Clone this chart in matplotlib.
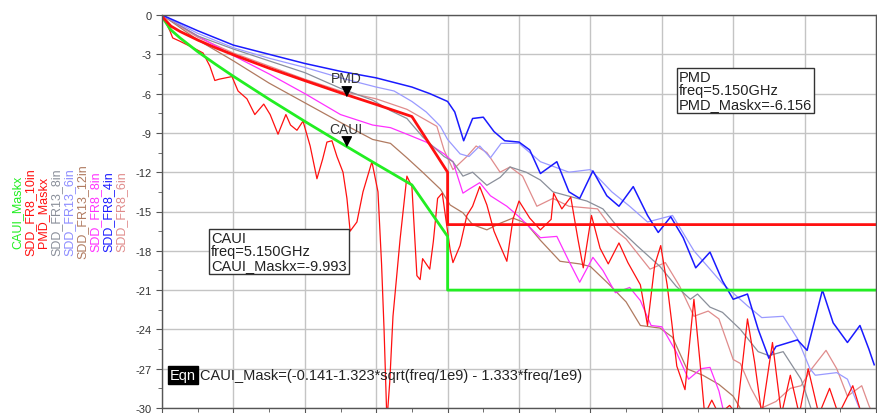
import numpy as np
import matplotlib.pyplot as plt
from matplotlib.ticker import MultipleLocator

plt.rcParams['font.family'] = ['Liberation Sans', 'DejaVu Sans']
plt.rcParams['axes.unicode_minus'] = False

# frequências (GHz) e perdas (dB)
caui_f = [0, 0.25, 0.5, 1, 1.5, 2, 3, 4, 5, 6, 7, 8, 8, 20]
caui_v = [-0.14, -1.14, -1.74, -2.80, -3.76, -4.68, -6.43, -8.12, -9.76, -11.38, -12.97, -16.9, -21.0, -21.0]

pmd_f = [0, 0.25, 0.5, 1, 1.5, 2, 3, 4, 5, 6, 7, 8, 8, 20]
pmd_v = [-0.11, -0.85, -1.25, -1.91, -2.50, -3.04, -4.06, -5.01, -5.94, -6.83, -7.75, -12.0, -16.0, -16.0]

fr8_10in_f = [0, 0.22, 0.3, 0.5, 0.87, 1.15, 1.34, 1.48, 1.6, 1.96, 2.13, 2.38, 2.6, 2.85, 3.03, 3.25,
              3.47, 3.6, 3.78, 3.95, 4.15, 4.34, 4.5, 4.62, 4.76, 4.9, 5.07, 5.18, 5.27, 5.46, 5.63,
              5.88, 6.05, 6.15, 6.22, 6.3, 6.38, 6.47, 6.67, 6.86, 7.0, 7.14, 7.23, 7.3, 7.5, 7.6,
              7.72, 7.85, 8.07, 8.15, 8.35, 8.54, 8.7, 8.9, 9.1, 9.3, 9.47, 9.66, 9.83, 10.0, 10.3,
              10.6, 10.9, 10.97, 11.2, 11.45, 11.65, 11.8, 12.03, 12.27, 12.5, 12.8, 13.05, 13.4,
              13.6, 13.8, 13.97, 14.15, 14.28, 14.42, 14.65, 14.9, 15.07, 15.2, 15.4, 15.6, 15.9,
              16.1, 16.4, 16.6, 16.8, 17.1, 17.35, 17.6, 17.85, 18.1, 18.4, 18.7, 18.95, 19.35,
              19.6, 20.0]
fr8_10in_v = [0, -1.2, -1.75, -2.0, -2.5, -2.9, -3.9, -5.0, -4.9, -4.7, -5.8, -6.4, -7.6, -6.8, -7.6,
              -9.1, -7.6, -8.4, -8.8, -8.1, -10.0, -12.5, -11.0, -9.7, -9.6, -10.8, -12.0, -14.0,
              -16.5, -15.8, -13.5, -11.2, -13.5, -19.0, -24.0, -31.0, -28.0, -23.0, -17.1, -12.3,
              -13.1, -19.9, -20.2, -18.6, -19.4, -17.3, -14.0, -13.6, -17.9, -18.9, -17.6, -15.3,
              -14.6, -13.1, -14.5, -16.5, -17.6, -18.8, -15.6, -14.2, -15.5, -16.4, -15.6, -13.6,
              -14.8, -13.9, -17.1, -19.3, -15.3, -17.8, -19.0, -17.4, -18.9, -20.6, -23.7, -19.1,
              -17.6, -20.6, -23.5, -26.8, -28.6, -21.7, -26.5, -30.5, -29.4, -30.5, -29.8, -30.5,
              -23.2, -26.5, -30.5, -25.0, -30.5, -27.5, -30.5, -27.0, -30.5, -28.5, -30.5, -28.3,
              -30.5, -30.5]

fr13_8in_f = [0, 1, 2, 3, 4, 5, 5.9, 6.4, 6.86, 7.3, 7.9, 8.15, 8.43, 8.7, 9.1, 9.47, 9.75, 10.2, 10.6,
              10.95, 11.9, 12.35, 12.8, 13.3, 13.95, 14.4, 14.8, 15.0, 15.35, 15.7, 16.2, 16.7, 17.0,
              17.4, 17.9, 18.2]
fr13_8in_v = [0, -1.6, -2.6, -3.5, -4.4, -5.6, -6.5, -7.3, -7.9, -9.3, -10.8, -11.2, -12.3, -12.0, -13.0,
              -12.4, -11.6, -12.0, -12.6, -13.5, -14.2, -14.8, -16.3, -17.6, -19.2, -20.7, -21.7, -21.3,
              -22.3, -22.7, -24.0, -25.7, -26.0, -25.7, -27.8, -30.2]

fr13_6in_f = [0, 1, 2, 3, 4, 5, 6, 6.5, 7, 7.4, 7.8, 8.0, 8.35, 8.6, 8.9, 9.2, 9.5, 10.0, 10.6, 11.4,
              12.0, 12.6, 13.1, 13.6, 14.3, 14.9, 15.35, 15.7, 16.4, 16.8, 17.4, 17.8, 18.15, 18.3,
              18.9, 19.2, 19.5, 19.7]
fr13_6in_v = [0, -1.4, -2.5, -3.3, -4.0, -4.8, -5.5, -5.8, -6.6, -7.4, -8.5, -9.5, -10.6, -10.8, -10.0,
              -10.9, -9.8, -9.8, -11.2, -12.0, -11.8, -13.5, -14.6, -15.8, -15.3, -18.0, -19.4, -20.5,
              -22.2, -23.1, -23.0, -24.7, -27.0, -27.5, -27.3, -27.8, -29.8, -31.0]

fr13_12in_f = [0, 1, 2, 3, 4, 5, 5.9, 6.4, 6.86, 7.3, 7.8, 8.07, 8.43, 8.7, 9.1, 9.47, 9.83, 10.2, 10.6,
               11.15, 11.7, 12.0, 12.5, 13.0, 13.4, 13.95, 14.3, 14.7, 15.15, 15.6, 16.0, 16.3]
fr13_12in_v = [0, -1.9, -3.5, -5.2, -6.7, -8.2, -9.5, -9.8, -10.9, -12.0, -13.3, -14.5, -15.1, -16.0,
               -16.4, -15.9, -15.5, -15.9, -17.2, -18.8, -19.0, -19.2, -20.5, -21.9, -23.7, -23.9,
               -24.6, -27.0, -27.5, -28.2, -29.1, -30.5]

fr8_8in_f = [0, 1, 2, 3, 4, 5, 5.9, 6.4, 6.86, 7.4, 7.9, 8.15, 8.43, 8.6, 8.9, 9.2, 9.66, 10.0, 10.6,
             11.06, 11.4, 11.7, 12.07, 12.35, 12.7, 13.1, 13.4, 13.7, 14.0, 14.4, 14.75, 15.1, 15.35,
             15.6, 15.75]
fr8_8in_v = [0, -1.6, -3.1, -4.5, -6.0, -7.6, -8.4, -8.6, -9.1, -9.7, -10.6, -11.2, -13.6, -13.3, -12.8,
             -13.8, -14.6, -15.4, -17.0, -16.9, -18.8, -20.4, -18.5, -19.5, -21.2, -20.8, -21.8, -23.7,
             -23.8, -25.7, -27.8, -27.0, -26.9, -28.7, -30.5]

fr8_4in_f = [0, 1, 2, 3, 4, 5, 6, 7, 7.5, 8, 8.2, 8.45, 8.7, 9.0, 9.3, 9.6, 10.0, 10.3, 10.6, 11.06,
             11.4, 11.7, 12.07, 12.46, 12.8, 13.2, 13.6, 13.9, 14.25, 14.6, 14.95, 15.35, 15.7, 16.0,
             16.4, 16.7, 17.0, 17.2, 17.8, 18.07, 18.5, 18.8, 19.2, 19.55, 19.8, 19.95]
fr8_4in_v = [0, -1.2, -2.3, -3.0, -3.7, -4.3, -4.8, -5.5, -6.0, -6.6, -7.4, -9.6, -7.9, -7.8, -8.9,
             -9.6, -9.7, -10.3, -12.1, -11.2, -13.5, -14.0, -11.9, -13.8, -14.6, -13.1, -15.3, -16.6,
             -15.4, -17.0, -19.3, -18.1, -20.3, -21.7, -21.3, -24.0, -26.2, -25.3, -24.8, -25.6,
             -21.0, -23.5, -25.0, -23.7, -25.5, -26.7]

fr8_6in_f = [0, 1, 2, 3, 4, 5, 6, 6.86, 7.7, 7.9, 8.15, 8.54, 8.8, 9.1, 9.47, 9.75, 10.1, 10.5, 10.95,
             11.4, 12.2, 12.55, 13.0, 13.67, 14.1, 14.5, 14.9, 15.3, 15.6, 16.0, 16.2, 16.5, 16.8,
             17.2, 17.6, 17.9, 18.2, 18.6, 18.9, 19.2, 19.6, 19.8, 20.0]
fr8_6in_v = [0, -1.7, -2.9, -3.9, -4.9, -5.8, -6.4, -7.2, -8.5, -10.3, -11.8, -10.8, -10.0, -10.5,
             -12.0, -11.6, -12.3, -14.6, -14.0, -14.6, -14.8, -16.1, -17.1, -19.4, -18.9, -20.7,
             -23.0, -22.6, -23.2, -26.3, -26.6, -28.5, -30.0, -29.5, -28.5, -28.3, -27.0, -25.6,
             -27.0, -29.1, -28.3, -29.8, -31.0]

marker_freq = 5.15
pmd_marker = -6.156
caui_marker = -9.993

legend_labels = ['CAUI_Maskx', 'SDD_FR8_10in', 'PMD_Maskx', 'SDD_FR13_8in', 'SDD_FR13_6in',
                 'SDD_FR13_12in', 'SDD_FR8_8in', 'SDD_FR8_4in', 'SDD_FR8_6in']
legend_colors = ['#22ee22', '#ff1010', '#ff1010', '#8a8f9a', '#8c8cff',
                 '#b07a60', '#ff30ff', '#1a1aff', '#e08c8c']

W, H = 877, 414
fig = plt.figure(figsize=(W / 100, H / 100), dpi=100)
ax = fig.add_axes([162 / W, 5 / H, 714 / W, 393 / H])

ax.plot(fr8_6in_f, fr8_6in_v, color='#e08c8c', lw=0.9)
ax.plot(fr13_12in_f, fr13_12in_v, color='#b07a60', lw=0.9)
ax.plot(fr8_8in_f, fr8_8in_v, color='#ff30ff', lw=0.9)
ax.plot(fr13_8in_f, fr13_8in_v, color='#8a8f9a', lw=0.9)
ax.plot(fr13_6in_f, fr13_6in_v, color='#9a9aff', lw=0.9)
ax.plot(fr8_4in_f, fr8_4in_v, color='#1a1aff', lw=1.1)
ax.plot(fr8_10in_f, fr8_10in_v, color='#ff1010', lw=0.9)
ax.plot(caui_f, caui_v, color='#22ee22', lw=2.0)
ax.plot(pmd_f, pmd_v, color='#ff1010', lw=2.0)

# marcadores (triângulo com a ponta no ponto)
tri = [(-1, 2), (1, 2), (0, 0)]
for val, name in [(pmd_marker, 'PMD'), (caui_marker, 'CAUI')]:
    ax.plot(marker_freq, val, marker=tri, markersize=14, color='black', zorder=5)
    ax.annotate(name, (marker_freq, val), xytext=(0, 12.5), textcoords='offset points',
                ha='center', va='center', fontsize=10, color='#333333', zorder=6)

ax.set_xlim(0, 20)
ax.set_ylim(-30, 0)
ax.xaxis.set_major_locator(MultipleLocator(2))
ax.xaxis.set_minor_locator(MultipleLocator(1))
ax.yaxis.set_major_locator(MultipleLocator(3))
ax.yaxis.set_minor_locator(MultipleLocator(1.5))
ax.grid(True, which='major', color='#c4c4c4', lw=1.0)
ax.set_axisbelow(True)
ax.tick_params(axis='both', which='both', direction='out', color='#555555', labelsize=8,
               labelcolor='#333333')
ax.tick_params(which='major', length=4)
ax.tick_params(which='minor', length=3)
ax.tick_params(axis='x', labelbottom=False)
for sp in ax.spines.values():
    sp.set_color('#555555')
    sp.set_linewidth(1.0)

# legenda vertical à esquerda
for i, (lab, col) in enumerate(zip(legend_labels, legend_colors)):
    fig.text((17 + 13 * i) / W, 1 - 212 / H, lab, rotation=90, ha='center', va='center',
             fontsize=9, color=col)

box = dict(boxstyle='square,pad=0.15', fc='white', ec='#333333', lw=1.0)
fig.text(679 / W, 1 - 71 / H, 'PMD\nfreq=5.150GHz\nPMD_Maskx=-6.156', ha='left', va='top',
         fontsize=10.5, linespacing=0.95, color='#222222', bbox=box)
fig.text(211 / W, 1 - 232 / H, 'CAUI\nfreq=5.150GHz\nCAUI_Maskx=-9.993', ha='left', va='top',
         fontsize=10.5, linespacing=0.95, color='#222222', bbox=box)

fig.text(170 / W, 1 - 376 / H, 'Eqn', ha='left', va='center', fontsize=10.5, color='white',
         bbox=dict(boxstyle='square,pad=0.15', fc='black', ec='black'))
fig.text(200 / W, 1 - 376 / H, 'CAUI_Mask=(-0.141-1.323*sqrt(freq/1e9) - 1.333*freq/1e9)',
         ha='left', va='center', fontsize=10.5, color='#222222')

fig.savefig('out.png', dpi=100)
